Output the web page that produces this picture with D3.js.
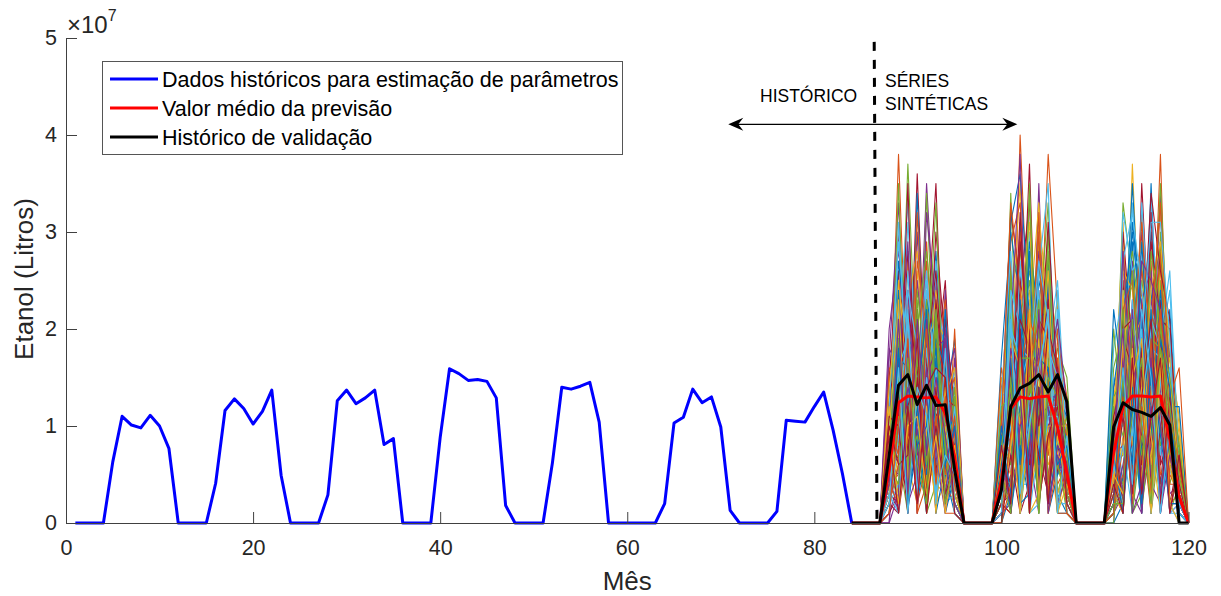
<!DOCTYPE html>
<html>
<head>
<meta charset="utf-8">
<script src="https://cdn.jsdelivr.net/npm/d3@7"></script>
<style>
  html, body { margin: 0; padding: 0; background: #fff; }
  svg { display: block; font-family: "Liberation Sans", Arial, Helvetica, sans-serif; }
</style>
</head>
<body>
<svg id="chart" width="1221" height="596"></svg>
<script>
// ---- data (volumes in millions of litres) ----
const UNIT = 1e6;

// historical months used for parameter estimation
const histMonths = d3.range(1, 85);
const histValues = [
  0, 0, 0, 0, 6.3, 11.0, 10.1, 9.8, 11.1, 10.0, 7.7, 0,
  0, 0, 0, 4.1, 11.6, 12.8, 11.8, 10.2, 11.5, 13.7, 4.9, 0,
  0, 0, 0, 2.9, 12.6, 13.7, 12.3, 12.9, 13.7, 8.1, 8.7, 0,
  0, 0, 0, 8.8, 15.9, 15.4, 14.7, 14.8, 14.6, 12.9, 1.8, 0,
  0, 0, 0, 6.2, 14.0, 13.8, 14.1, 14.5, 10.4, 0, 0, 0,
  0, 0, 0, 2.0, 10.3, 10.9, 13.8, 12.4, 13.0, 9.9, 1.3, 0,
  0, 0, 0, 1.2, 10.6, 10.5, 10.4, 12.0, 13.5, 9.6, 5.1, 0
];

// forecast horizon
const forecastMonths = d3.range(84, 121);
const meanForecast = [
  0, 0, 0, 0, 5.5, 12.4, 13.1, 13.0, 12.9, 13.0, 11.3, 6.8,
  0, 0, 0, 0, 4.4, 11.8, 13.0, 12.8, 13.0, 13.1, 9.9, 5.1,
  0, 0, 0, 0, 7.2, 12.0, 13.1, 13.1, 13.0, 13.1, 8.6, 2.7, 0
];
const validationValues = [
  0, 0, 0, 0, 7.0, 14.2, 15.3, 12.2, 14.2, 12.1, 12.2, 5.5,
  0, 0, 0, 0, 3.4, 12.0, 13.9, 14.4, 15.3, 13.5, 15.3, 12.5,
  0, 0, 0, 0, 9.9, 12.4, 11.7, 11.4, 11.0, 11.9, 10.1, 0, 0
];

// synthetic series: harvest-season values (8 months each), zero between seasons
const offSeason = [0, 0, 0, 0];
const synthSeason1 = [ // months 88–95
  [4,18,9,22,6,14,20,8],[9,38,12,5,17,11,6,3],[2,7,15,26,10,4,13,9],[12,21,6,11,35,18,9,5],
  [1,10,37,14,8,21,16,11],[7,3,19,9,24,7,2,14],[15,26,8,36,12,16,25,6],[3,12,22,6,15,28,11,2],
  [6,16,4,18,3,10,7,12],[10,5,27,13,20,9,18,4],[0,14,11,30,7,25,5,17],[8,24,16,2,34,12,14,7],
  [5,9,31,17,11,6,22,10],[14,30,7,10,19,35,8,3],[2,6,13,21,4,15,12,19],[11,19,24,8,27,3,17,6],
  [4,13,2,15,9,19,4,13],[17,33,10,25,14,8,24,1],[6,2,20,5,22,13,10,8],[9,17,14,19,1,27,6,15],
  [1,11,28,12,16,5,19,5],[13,23,5,34,10,20,13,9],[3,8,17,7,29,11,2,20],[7,15,9,16,13,24,15,4],
  [20,28,21,3,18,2,21,11],[5,4,12,23,6,17,9,7],[10,20,33,9,25,14,7,16],[2,10,6,14,11,30,18,2],
  [8,27,18,20,2,9,11,13],[16,14,3,11,21,16,23,6],[3,6,23,28,14,4,3,10],[11,22,15,4,32,22,14,18],
  [6,35,8,17,8,12,8,3],[1,9,26,6,17,26,16,8],[13,18,11,22,5,7,21,12],[4,12,20,10,23,18,5,1],
  [9,3,6,32,12,10,12,15],[7,25,14,13,19,21,19,5],[18,16,29,7,9,5,10,9],[2,11,9,24,15,33,6,14],
  [12,29,17,15,26,13,17,4],[5,7,35,5,7,19,9,10],[8,20,12,19,13,8,22,7],[1,15,5,27,20,15,4,2],
  [14,24,19,12,4,23,13,16],[6,5,24,9,16,6,20,6],[10,19,7,20,28,17,8,11],[3,31,13,3,10,11,14,3],
  [7,13,22,16,17,26,11,8],
  [5,14,3,8,19,2,9,6],[3,2,17,13,1,20,14,2],[8,20,6,2,12,9,5,10],[1,4,14,10,21,3,11,4],
  [6,7,1,18,4,6,17,1],[10,16,19,3,14,22,2,3],[2,1,8,21,2,11,13,12],[7,19,3,12,5,17,1,5],
  [4,5,21,1,18,3,15,7],[9,3,9,6,2,14,6,9],[0,17,2,19,13,1,18,2],[11,8,12,4,23,10,3,13],
  [5,22,1,14,3,16,12,1],[3,2,18,5,17,5,4,6],[8,15,4,9,1,13,9,11],[2,6,20,2,6,21,1,1],
  [12,1,10,13,20,2,4,8],[6,12,2,5,15,18,19,2],[4,21,5,22,1,4,11,3],[1,9,22,3,18,7,2,12],
  [1,3,12,16,2,23,13,7],[7,24,1,12,22,1,6,2],[10,7,17,1,4,10,17,9],[3,16,3,19,9,2,10,1],
  [5,1,19,4,16,8,3,10],[8,19,6,9,2,20,7,6],[2,4,24,18,11,3,12,1],[11,10,1,15,3,14,2,8],
  [6,17,16,2,8,19,16,5],[4,2,9,20,1,11,5,11],[9,23,4,13,12,1,14,3],[0,3,18,1,21,7,1,7],
  [7,15,2,17,6,22,8,2],[3,1,21,3,15,2,18,2],[10,6,7,19,1,10,3,6],[5,18,2,8,10,18,6,10],
  [1,10,19,1,20,4,13,4],[8,2,10,11,3,9,1,8],[4,21,3,21,7,15,9,2],[6,4,17,6,2,21,2,7],
  [2,16,1,14,11,3,7,5],[9,1,12,2,14,16,15,1]
];
const synthSeason2 = [ // months 100–107
  [3,15,22,9,18,12,7,4],[8,6,40,17,11,25,14,9],[1,22,10,28,6,16,20,2],[11,12,18,5,35,8,5,12],
  [5,34,7,20,13,30,11,6],[0,9,26,13,22,4,17,3],[14,19,14,37,8,19,9,10],[6,4,31,11,27,14,3,1],
  [2,27,5,16,15,38,22,7],[9,13,20,24,4,11,12,5],[4,7,12,8,19,21,6,13],[12,24,28,19,29,7,15,2],
  [7,16,9,30,10,18,25,8],[1,5,17,6,24,13,8,4],[17,30,23,14,2,27,13,11],[5,11,6,22,16,10,4,6],
  [10,20,35,3,31,23,19,3],[3,8,14,18,9,5,10,9],[6,25,19,26,20,33,7,1],[13,14,3,12,14,15,21,7],
  [2,3,24,33,7,9,16,12],[8,18,11,7,25,20,6,4],[4,29,33,15,12,2,12,10],[15,10,8,21,33,17,23,5],
  [0,21,16,10,5,24,9,2],[9,6,21,27,18,12,18,15],[5,17,4,4,26,35,5,6],[11,32,25,19,11,8,14,3],
  [3,12,13,29,21,22,11,8],[7,2,30,9,3,14,20,1],[12,23,9,23,17,6,8,11],[2,14,18,14,28,19,15,5],
  [6,26,2,35,9,28,3,7],[10,8,27,16,23,11,24,2],[4,19,15,6,14,16,10,9],[1,31,36,21,6,25,13,4],
  [16,11,10,13,30,4,19,13],[5,4,22,31,12,20,7,6],[8,22,7,10,19,13,16,3],[2,16,19,25,8,30,9,8],
  [13,28,13,2,24,9,22,1],[6,9,29,18,16,23,5,10],[3,18,6,28,4,17,12,5],[10,33,24,11,32,7,17,7],
  [7,5,16,20,13,26,6,2],[1,20,38,7,20,15,21,12],[12,13,11,34,10,10,11,4],[4,24,20,17,27,21,8,9],
  [9,10,32,12,15,31,14,6],
  [4,12,2,10,14,3,9,5],[2,1,10,18,2,12,13,2],[7,8,19,3,20,9,1,8],[1,14,3,7,1,21,11,4],
  [5,2,8,16,17,2,15,1],[3,10,22,1,8,16,2,7],[8,15,1,20,4,10,12,3],[0,3,17,9,19,1,5,9],
  [6,18,2,15,1,20,14,2],[2,1,20,2,22,8,3,6],[9,7,3,19,13,2,16,4],[4,21,15,1,16,17,1,10],
  [1,2,18,17,3,12,12,1],[7,16,1,4,21,19,2,5],[3,4,23,11,2,11,14,8],[5,19,3,21,18,1,6,3],
  [0,8,16,2,9,22,1,6],[8,1,10,12,3,13,13,2],[2,22,1,9,20,4,8,11],[6,3,14,18,1,18,15,4],
  [3,17,2,13,7,3,10,7],[10,1,8,2,17,16,1,1],[1,9,15,22,2,9,12,9],[4,18,1,10,19,1,9,3],
  [7,2,20,3,11,12,2,5],[2,15,4,14,23,3,6,2],[5,20,17,1,2,11,11,8],[0,7,1,19,10,20,16,4],
  [9,3,22,4,14,2,8,6],[3,12,2,16,21,15,1,1],[6,19,16,1,3,10,10,10],[1,2,18,11,18,2,7,3],
  [8,14,3,15,1,14,15,7],[4,23,1,13,15,22,2,2],[2,1,21,18,2,9,12,5],[6,17,2,3,13,16,6,8],
  [0,4,19,1,17,3,14,1],[7,11,1,22,2,19,1,4],[3,18,13,2,22,1,8,6],[5,1,17,17,1,15,13,3],
  [1,21,3,10,16,21,1,9],[8,2,20,1,14,2,15,2]
];
const synthSeason3 = [ // months 112–119
  [5,13,20,11,24,9,15,3],[10,27,8,22,13,38,7,1],[2,9,37,14,7,17,12,6],[14,18,12,30,19,6,20,2],
  [6,33,25,6,28,22,4,8],[1,6,15,19,11,13,16,4],[9,22,5,35,16,29,9,0],[4,12,29,10,35,11,22,5],
  [11,15,18,24,4,19,6,2],[3,29,9,13,21,32,13,7],[7,8,23,5,14,7,18,1],[16,20,13,27,9,25,10,3],
  [2,11,33,16,25,15,5,9],[8,25,6,20,17,4,14,1],[12,4,21,9,30,20,21,5],[4,17,16,32,6,28,8,2],
  [9,31,10,15,22,12,17,11],[1,14,27,7,12,34,3,4],[6,7,12,25,19,9,12,1],[18,24,20,12,33,18,24,6],
  [3,16,4,18,8,23,9,3],[10,10,31,22,15,14,15,8],[5,28,15,4,27,5,7,2],[13,19,22,29,10,26,19,10],
  [2,6,11,14,23,16,11,0],[7,23,28,19,5,30,6,5],[15,12,7,33,18,10,13,2],[4,30,18,8,29,21,20,7],
  [9,15,35,17,12,8,10,1],[1,8,14,26,20,27,4,4],[11,26,24,11,7,15,17,9],[6,18,3,23,26,12,8,3],
  [20,10,19,15,14,35,14,1],[3,32,26,28,22,19,26,6],[8,13,10,6,32,6,9,2],[14,21,30,20,9,24,12,12],
  [2,5,17,31,17,14,5,3],[10,24,8,12,24,29,18,5],[5,16,22,18,11,11,11,1],[12,9,13,7,28,20,7,8],
  [4,27,32,24,16,7,16,4],[7,19,16,16,34,26,21,2],[22,14,6,29,13,17,10,6],[1,22,25,10,20,33,13,16],
  [9,7,19,21,6,13,6,1],[6,28,12,27,25,22,15,3],[13,15,26,13,15,8,12,7],[3,11,9,19,31,31,19,2],
  [8,20,21,8,10,16,8,5],
  [6,14,2,18,10,3,11,3],[3,1,17,11,2,12,8,1],[9,18,1,15,14,2,13,5],[1,3,20,2,8,14,1,2],
  [5,16,4,21,1,9,15,4],[8,2,11,1,21,18,2,0],[2,21,1,16,3,13,12,6],[7,3,22,2,16,1,9,2],
  [4,17,3,19,1,15,2,3],[10,1,18,4,20,11,6,7],[0,15,2,10,3,19,11,1],[6,4,15,1,11,2,13,4],
  [3,8,1,13,18,17,1,2],[9,2,11,20,2,10,15,5],[1,20,3,8,22,1,10,1],[5,1,13,2,14,22,2,3],
  [7,16,2,12,1,12,9,6],[2,3,14,22,4,2,14,0],[8,22,1,3,19,18,1,4],[4,1,23,11,2,11,16,2],
  [11,15,4,18,3,20,2,7],[0,2,12,1,21,3,12,1],[6,18,2,10,1,17,9,3],[3,1,15,19,9,1,15,5],
  [9,17,3,1,18,10,2,2],[1,4,11,17,2,21,8,0],[5,20,1,12,20,2,13,4],[7,2,21,3,11,12,1,6],
  [2,16,3,21,1,19,14,1],[8,1,17,2,19,3,9,3],[4,19,2,14,2,18,2,5],[10,3,22,1,17,1,7,2],
  [0,15,1,9,4,20,15,8],[6,2,10,20,1,15,1,1],[3,11,3,13,21,2,13,4],[7,1,14,2,16,9,2,2],
  [1,13,2,12,3,22,11,6],[5,3,15,19,1,16,2,0],[9,20,1,4,12,3,9,3],[2,2,21,10,2,18,12,5],
  [6,16,4,22,15,1,10,2],[4,1,17,3,11,17,1,7]
];

// default line color order
const lineColors = ["#0072BD", "#D95319", "#EDB120", "#7E2F8E", "#77AC30", "#4DBEEE", "#A2142F"];

// axis ticks
const xTicks = [0, 20, 40, 60, 80, 100, 120];
const yTicks = [0, 1e7, 2e7, 3e7, 4e7, 5e7];

const legendItems = [
  { label: "Dados históricos para estimação de parâmetros", color: "#0000FF" },
  { label: "Valor médio da previsão", color: "#FF0000" },
  { label: "Histórico de validação", color: "#000000" }
];

// ---- layout ----
const svg = d3.select("#chart");
const x = d3.scaleLinear().domain([0, 120]).range([66, 1188.5]);
const y = d3.scaleLinear().domain([0, 5e7]).range([523, 38]);

const line = d3.line().x(d => x(d[0])).y(d => y(d[1] * UNIT));
const zip = (ms, vs) => ms.map((m, i) => [m, vs[i]]);

// synthetic series fan
const synthSeries = synthSeason1.map((s1, k) => [
  ...offSeason, ...s1, ...offSeason, ...synthSeason2[k], ...offSeason, ...synthSeason3[k], 0
]);
svg.append("g").attr("class", "synthetic")
  .selectAll("path").data(synthSeries).join("path")
  .attr("d", v => line(zip(forecastMonths, v)))
  .attr("fill", "none")
  .attr("stroke", (d, i) => lineColors[i % lineColors.length])
  .attr("stroke-width", 1.1)
  .attr("stroke-linejoin", "round");

// historical data
svg.append("path")
  .attr("d", line(zip(histMonths, histValues)))
  .attr("fill", "none").attr("stroke", "#0000FF").attr("stroke-width", 3)
  .attr("stroke-linejoin", "round");

// mean forecast
svg.append("path")
  .attr("d", line(zip(forecastMonths, meanForecast)))
  .attr("fill", "none").attr("stroke", "#FF0000").attr("stroke-width", 3)
  .attr("stroke-linejoin", "round");

// validation history
svg.append("path")
  .attr("d", line(zip(forecastMonths, validationValues)))
  .attr("fill", "none").attr("stroke", "#000000").attr("stroke-width", 3)
  .attr("stroke-linejoin", "round");

// ---- axes ----
const axisColor = "#404040";
const yAxis = svg.append("g").attr("transform", `translate(${x(0)},0)`)
  .call(d3.axisLeft(y).tickValues(yTicks).tickFormat(d => d / 1e7).tickSizeInner(-11).tickSizeOuter(0).tickPadding(9));
const xAxis = svg.append("g").attr("transform", `translate(0,${y(0)})`)
  .call(d3.axisBottom(x).tickValues(xTicks).tickFormat(d3.format("d")).tickSizeInner(-11).tickSizeOuter(0).tickPadding(17));
[xAxis, yAxis].forEach(g => {
  g.select(".domain").attr("stroke", axisColor).attr("stroke-width", 1);
  g.selectAll(".tick line").attr("stroke", axisColor).attr("stroke-width", 1);
  g.selectAll(".tick text").attr("fill", "#262626").attr("font-size", 21.5)
    .attr("font-family", "Liberation Sans, Arial, sans-serif");
});

// exponent marker
const expo = svg.append("text").attr("x", 67).attr("y", 33)
  .attr("font-size", 24).attr("fill", "#262626");
expo.append("tspan").text("×10");
expo.append("tspan").attr("font-size", 16).attr("dy", -12).text("7");

// axis titles
svg.append("text").attr("x", x(60)).attr("y", 590).attr("text-anchor", "middle")
  .attr("font-size", 26).attr("fill", "#262626").text("Mês");
svg.append("text").attr("transform", "translate(33,279) rotate(-90)").attr("text-anchor", "middle")
  .attr("font-size", 26).attr("fill", "#262626").text("Etanol (Litros)");

// ---- annotations ----
// split between history and synthetic series
svg.append("line")
  .attr("x1", x(86.4)).attr("y1", y(4.96e7)).attr("x2", x(86.7)).attr("y2", y(0))
  .attr("stroke", "#000").attr("stroke-width", 3).attr("stroke-dasharray", "9,9");

// double-headed arrow
const arrowY = y(4.11e7), ax1 = x(70.8), ax2 = x(101.7);
svg.append("line").attr("x1", ax1 + 4).attr("x2", ax2 - 4).attr("y1", arrowY).attr("y2", arrowY)
  .attr("stroke", "#000").attr("stroke-width", 1.3);
const head = (tipX, dir) => {
  const L = 15, W = 6.5, notch = 5;
  return `M${tipX},${arrowY} L${tipX - dir * L},${arrowY - W} L${tipX - dir * (L - notch)},${arrowY} L${tipX - dir * L},${arrowY + W} Z`;
};
svg.append("path").attr("d", head(ax1, -1)).attr("fill", "#000");
svg.append("path").attr("d", head(ax2, 1)).attr("fill", "#000");

svg.append("text").attr("x", 760).attr("y", 101.5).attr("font-size", 17.5).attr("fill", "#000").text("HISTÓRICO");
svg.append("text").attr("x", 885).attr("y", 87).attr("font-size", 17.5).attr("fill", "#000").text("SÉRIES");
svg.append("text").attr("x", 885).attr("y", 110).attr("font-size", 17.5).attr("fill", "#000").text("SINTÉTICAS");

// ---- legend ----
const legend = svg.append("g");
legend.append("rect").attr("x", 102.5).attr("y", 61.5).attr("width", 520).attr("height", 93)
  .attr("fill", "#fff").attr("stroke", "#555").attr("stroke-width", 1);
const rows = legend.selectAll("g.item").data(legendItems).join("g").attr("class", "item")
  .attr("transform", (d, i) => `translate(0,${79 + i * 29})`);
rows.append("line").attr("x1", 110).attr("x2", 158).attr("y1", 0).attr("y2", 0)
  .attr("stroke", d => d.color).attr("stroke-width", 3);
rows.append("text").attr("x", 162).attr("y", 7.5).attr("font-size", 21.5).attr("fill", "#000")
  .text(d => d.label);
</script>
</body>
</html>
